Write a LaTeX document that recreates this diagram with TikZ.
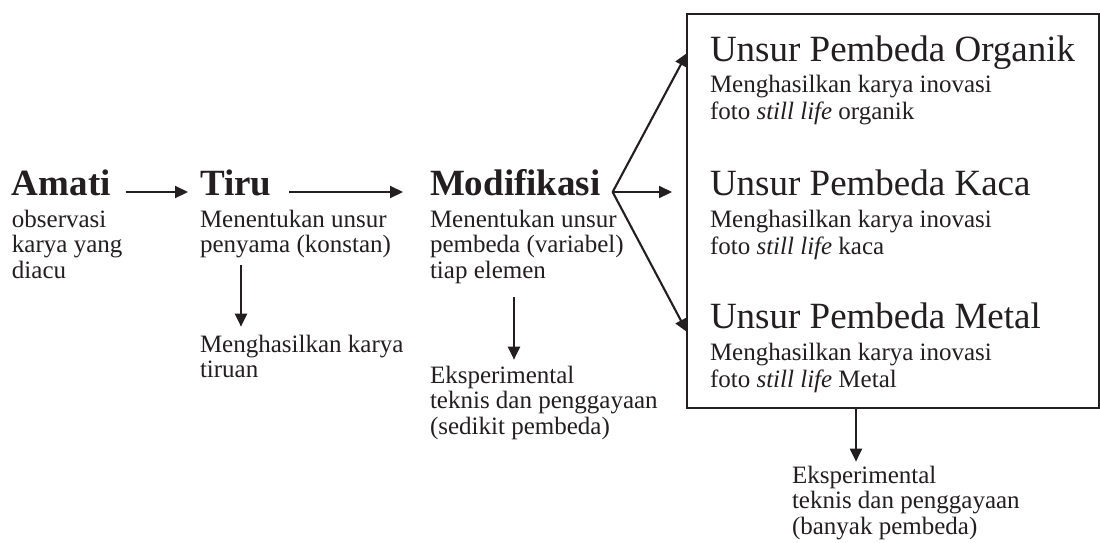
\documentclass[tikz,border=0pt]{standalone}
\usepackage{fontspec}
\setmainfont{Liberation Serif}
\usetikzlibrary{arrows.meta,calc}
\definecolor{ink}{HTML}{231F20}
\begin{document}
\begin{tikzpicture}[x=1pt,y=-1pt,
  every node/.style={inner sep=0pt, outer sep=0pt, text=ink},
  ttl/.style={anchor=base west, font=\fontsize{37}{40}\selectfont\bfseries},
  btl/.style={anchor=base west, font=\fontsize{37}{40}\selectfont},
  sub/.style={anchor=base west, font=\fontsize{25}{25.5}\selectfont},
  bsub/.style={anchor=base west, font=\fontsize{25}{27}\selectfont},
  arr/.style={draw=ink, line width=2.1pt, -{Triangle[length=13pt,width=12pt]}}]
\useasboundingbox (0,0) rectangle (1100,542);
\fill[white] (0,0) rectangle (1100,542);

% left column
\node[ttl] (amati) at (12,195) {Amati};
\node[sub] (amatisub) at (12,227) {\vtop{\hbox{observasi}\hbox{karya yang}\hbox{diacu}}};

\node[ttl] (tiru) at (200,195) {Tiru};
\node[sub] (tirusub) at (200,227) {\vtop{\hbox{Menentukan unsur}\hbox{penyama (konstan)}}};
\node[sub] (tirures) at (200,352) {\vtop{\hbox{Menghasilkan karya}\hbox{tiruan}}};

\node[ttl] (modif) at (430,195) {Modifikasi};
\node[sub] (modifsub) at (430,227) {\vtop{\hbox{Menentukan unsur}\hbox{pembeda (variabel)}\hbox{tiap elemen}}};
\node[sub] (modifres) at (430,383) {\vtop{\hbox{Eksperimental}\hbox{teknis dan penggayaan}\hbox{(sedikit pembeda)}}};

% box
\node[draw=ink, line width=1.5pt, anchor=north west, minimum width=412pt, minimum height=394pt] (box) at (687,14) {};

\node[btl] (org) at (710,61) {Unsur Pembeda Organik};
\node[bsub] (orgsub) at (710,92) {\vtop{\hbox{Menghasilkan karya inovasi}\hbox{foto \textit{still life} organik}}};

\node[btl] (kaca) at (710,195) {Unsur Pembeda Kaca};
\node[bsub] (kacasub) at (710,227) {\vtop{\hbox{Menghasilkan karya inovasi}\hbox{foto \textit{still life} kaca}}};

\node[btl] (metal) at (710,328) {Unsur Pembeda Metal};
\node[bsub] (metalsub) at (710,360) {\vtop{\hbox{Menghasilkan karya inovasi}\hbox{foto \textit{still life} Metal}}};

\node[sub] (boxres) at (792,483) {\vtop{\hbox{Eksperimental}\hbox{teknis dan penggayaan}\hbox{(banyak pembeda)}}};

% connectors
\draw[arr] ([xshift=15pt,yshift=3pt]amati.base east) -- ([xshift=-12pt,yshift=3pt]tiru.base west);
\draw[arr] ([xshift=18pt,yshift=3pt]tiru.base east) -- ([xshift=-27pt,yshift=3pt]modif.base west);

\coordinate (fork) at ([xshift=12pt,yshift=3pt]modif.base east);
\draw[arr] (fork) -- ($(box.west |- org.base)+(0,-8)$);
\draw[arr] (fork) -- ($(fork -| box.west)+(-15,0)$);
\draw[arr] (fork) -- ($(box.west |- metal.base)+(0,4)$);

\draw[arr] ($(tirusub.south west)+(41,7)$) -- ($(tirures.north west)+(41,-8)$);
\draw[arr] ($(modifsub.south west)+(84,14)$) -- ($(modifres.north west)+(84,-6)$);
\draw[arr] ($(box.south west)+(169,0)$) -- ($(boxres.north west)+(64,-4)$);
\end{tikzpicture}
\end{document}
